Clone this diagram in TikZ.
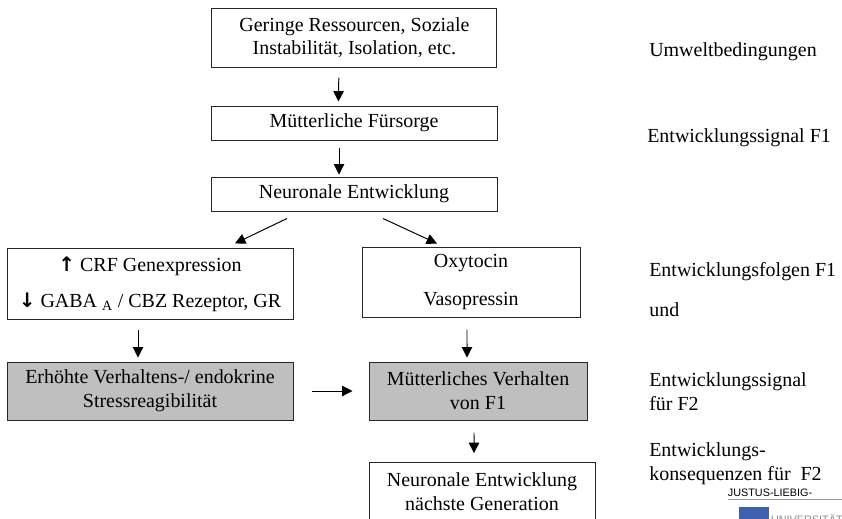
\documentclass[tikz,border=0pt]{standalone}
\usepackage{fontspec}
\setmainfont{Liberation Serif}
\newfontfamily\logofont{Liberation Sans}
\newfontfamily\arrowfont{DejaVu Sans}
\usetikzlibrary{arrows.meta}
\definecolor{logoblue}{RGB}{64,96,176}

\begin{document}
\begin{tikzpicture}[
    % Styles
    box/.style={rectangle, draw=black!85, line width=0.7pt, align=center, inner sep=0pt, font=\fontsize{14.2}{17}\selectfont},
    shaded/.style={box, fill=black!25},
    arrow/.style={-{Triangle[length=2.6mm, width=2.6mm]}, line width=0.7pt},
    side/.style={anchor=west, align=left, inner sep=0pt, font=\fontsize{14.2}{17}\selectfont},
]
\useasboundingbox (0,0) rectangle (21.05,-12.95);
\clip (0,0) rectangle (21.05,-12.95);

% === MAIN CHAIN ===
\node[box, minimum width=7.125cm, minimum height=1.475cm] (env) at (8.86,-0.94) {Geringe Ressourcen, Soziale\\Instabilität, Isolation, etc.};
\node[box, minimum width=7.15cm, minimum height=0.85cm] (care) at (8.85,-3.075) {Mütterliche Fürsorge};
\node[box, minimum width=7.15cm, minimum height=0.85cm] (neuro) at (8.85,-4.85) {Neuronale Entwicklung};

% Two branches
\node[box, minimum width=7.15cm, minimum height=1.775cm] (crf) at (3.75,-7.11) {{\arrowfont\bfseries ↑} CRF Genexpression\\[8.5pt]{\arrowfont\bfseries ↓} GABA \textsubscript{A} / CBZ Rezeptor, GR};
\node[box, minimum width=5.45cm, minimum height=1.75cm] (oxy) at (11.775,-7.05) {Oxytocin\\[10.5pt]Vasopressin};
\node[shaded, minimum width=7.15cm, minimum height=1.45cm] (stress) at (3.75,-9.775) {Erhöhte Verhaltens-/ endokrine\\Stressreagibilität};
\node[shaded, minimum width=5.45cm, minimum height=1.45cm] (behav) at (11.95,-9.775) {Mütterliches Verhalten\\von F1};
\node[box, minimum width=5.65cm, minimum height=1.45cm] (next) at (12.05,-12.29) {Neuronale Entwicklung\\nächste Generation};

% Arrows
\draw[arrow] ([xshift=-0.39cm, yshift=-0.25cm]env.south) -- ([xshift=-0.39cm, yshift=0.1cm]care.north);
\draw[arrow] ([xshift=-0.375cm, yshift=-0.175cm]care.south) -- ([xshift=-0.375cm, yshift=0.05cm]neuro.north);
\draw[arrow] ([xshift=-1.675cm, yshift=-0.175cm]neuro.south) -- ([xshift=2.125cm, yshift=0.125cm]crf.north);
\draw[arrow] ([xshift=0.725cm, yshift=-0.175cm]neuro.south) -- ([xshift=-0.85cm, yshift=0.075cm]oxy.north);
\draw[arrow] ([xshift=-0.3cm, yshift=-0.25cm]crf.south) -- ([xshift=-0.3cm, yshift=0.1cm]stress.north);
\draw[arrow] ([xshift=-0.1cm, yshift=-0.3cm]oxy.south) -- ([xshift=-0.275cm, yshift=0.1cm]behav.north);
\draw[arrow] ([xshift=0.475cm]stress.east) -- ([xshift=-0.4cm]behav.west);
\draw[arrow] ([xshift=-0.1cm, yshift=-0.3cm]behav.south) -- ([xshift=-0.2cm, yshift=0.225cm]next.north);

% === LEVEL LABELS (Right) ===
\node[side] (envlbl) at (16.225,-1.3) {Umweltbedingungen};
\node[side] (sig1) at (16.175,-3.45) {Entwicklungssignal F1};
\node[side] (cons1) at (16.225,-6.8) {Entwicklungsfolgen F1};
\node[side] (und) at (16.225,-7.75) {und};
\node[side] (sig2) at (16.225,-9.8) {Entwicklungssignal\\für F2};
\node[side] (cons2) at (16.225,-11.6) {Entwicklungs-\\konsequenzen für~ F2};

% University logo
\node[font=\logofont\fontsize{7.7}{9}\selectfont, inner sep=0pt] (uni) at (19.25,-12.33) {JUSTUS-LIEBIG-};
\draw[black!40, line width=0.4pt] (18.2,-12.475) -- (21.05,-12.475);
\fill[logoblue] (18.475,-12.675) rectangle (19.225,-13.0);
\node[font=\logofont\fontsize{7.7}{9}\selectfont, black!45, anchor=north west, inner sep=0pt] (unitwo) at (19.27,-12.85) {UNIVERSITÄT GIESSEN};

\end{tikzpicture}
\end{document}
